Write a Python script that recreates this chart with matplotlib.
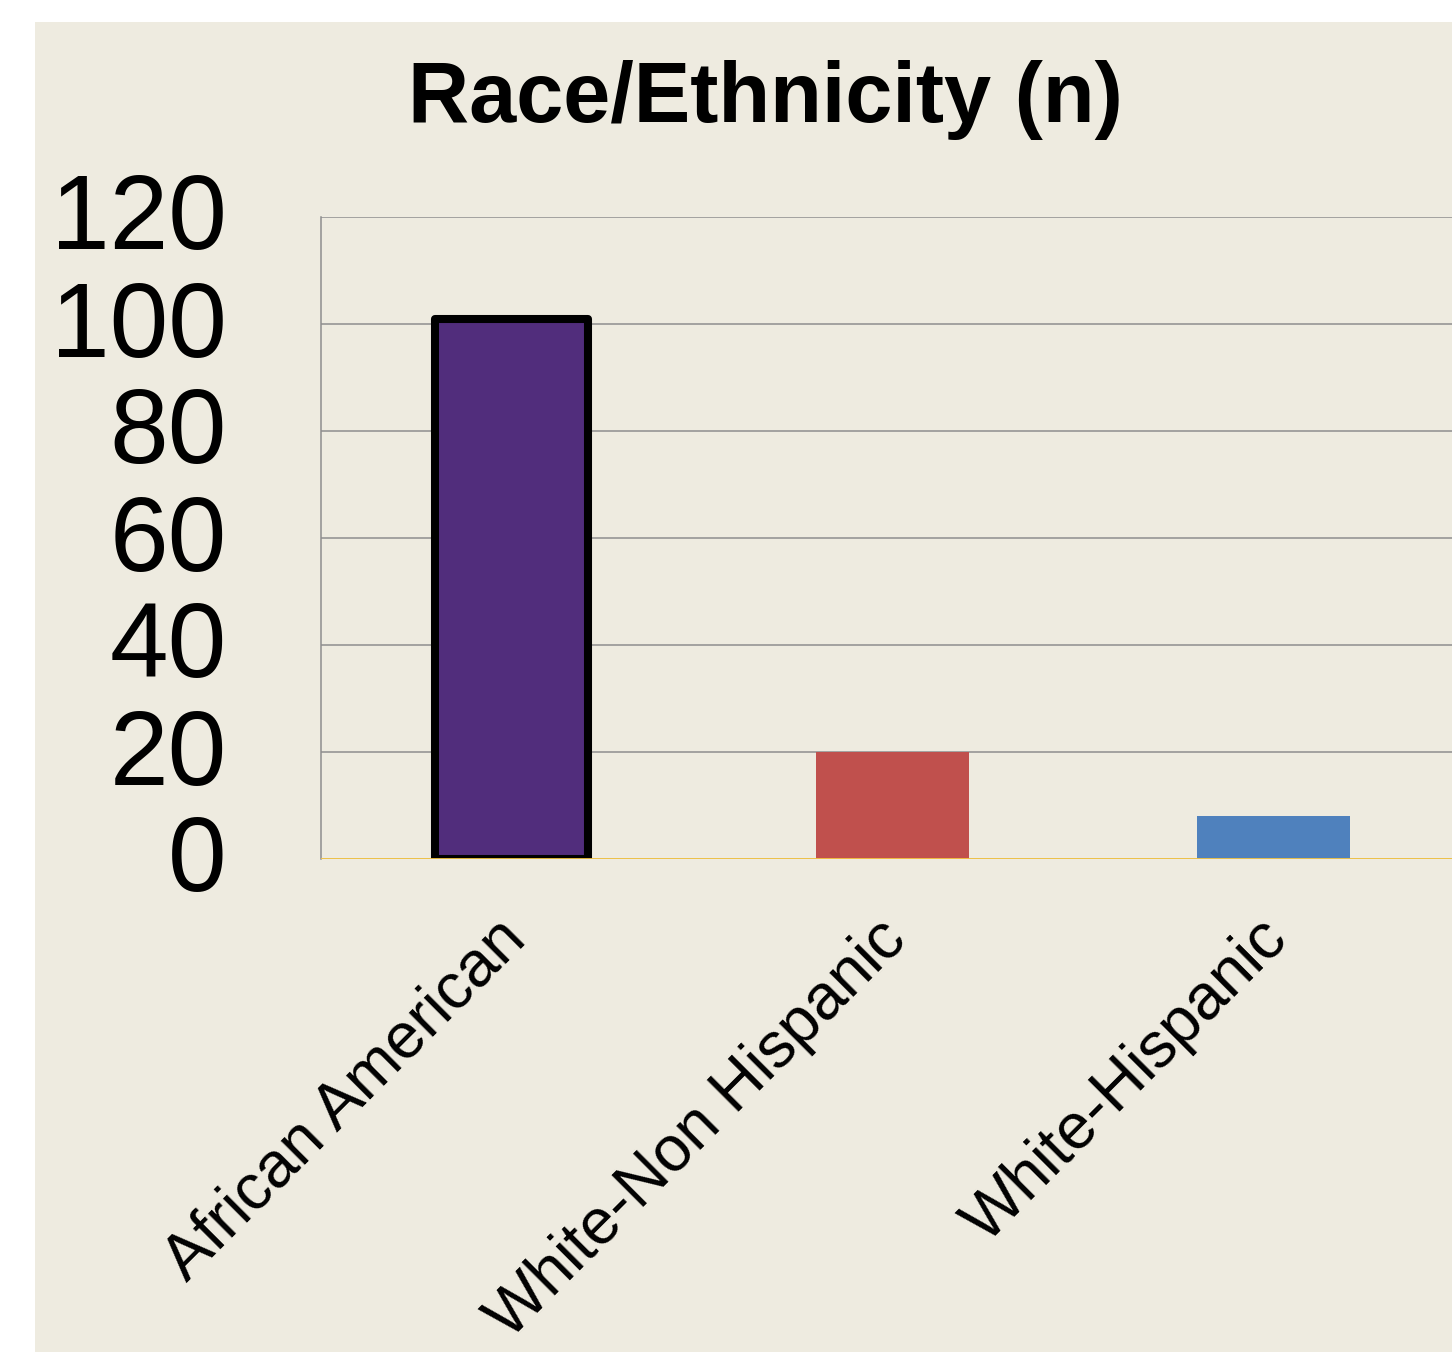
import matplotlib.pyplot as plt
from matplotlib.patches import Rectangle
from matplotlib.transforms import ScaledTranslation

# Datos
categorias = ["African American", "White-Non Hispanic", "White-Hispanic"]
valores = [101, 20, 8]
colores = ["#512D7C", "#C0504D", "#4F81BD"]
ticks_y = [0, 20, 40, 60, 80, 100, 120]

W, H = 1452, 1352
fondo = "#EEEBE0"

fig = plt.figure(figsize=(W / 100, H / 100), dpi=100)
fig.patch.set_facecolor("white")
# Panel beige
fig.patches.append(Rectangle((35 / W, 0), 1 - 35 / W, 1 - 22 / H,
                             transform=fig.transFigure, facecolor=fondo,
                             edgecolor="none", zorder=-5))

ax = fig.add_axes([321 / W, 493 / H, 1143 / W, 642 / H])
ax.set_facecolor("none")
ax.set_zorder(2)

x = list(range(len(categorias)))
barras = ax.bar(x, valores, width=0.4, color=colores, zorder=3)
barras[0].set_edgecolor("black")
barras[0].set_linewidth(5.8)
barras[0].set_joinstyle("round")

ax.set_xlim(-0.5, 2.5)
ax.set_ylim(0, 120)
ax.set_yticks(ticks_y)
ax.set_yticklabels([str(t) for t in ticks_y], fontsize=76, family="Liberation Sans")
ax.tick_params(axis="y", length=0, pad=68)
ax.tick_params(axis="x", length=0, pad=14)
ax.set_xticks(x)
ax.set_xticklabels(categorias, rotation=45, ha="right", va="top",
                   rotation_mode="anchor", fontsize=46, family="Liberation Sans")

# pequeños ajustes de posicion de etiquetas
for lab in ax.get_xticklabels():
    lab.set_transform(lab.get_transform() + ScaledTranslation(-0.17, -0.30, fig.dpi_scale_trans))
for lab in ax.get_yticklabels():
    lab.set_transform(lab.get_transform() + ScaledTranslation(0, 0.06, fig.dpi_scale_trans))

ax.grid(axis="y", color="#8E8E8E", linewidth=1.1, zorder=1)
ax.set_axisbelow(True)
for lado in ["top", "right", "bottom"]:
    ax.spines[lado].set_visible(False)
ax.spines["left"].set_color("#8E8E8E")
ax.spines["left"].set_linewidth(1.1)
ax.axhline(0, color="#F5C542", linewidth=2, zorder=4)

fig.text(765 / W, 1 - 122 / H, "Race/Ethnicity (n)", ha="center", va="baseline",
         fontsize=61, fontweight="bold", family="Liberation Sans")

plt.savefig("out.png", dpi=100, facecolor=fig.get_facecolor())
